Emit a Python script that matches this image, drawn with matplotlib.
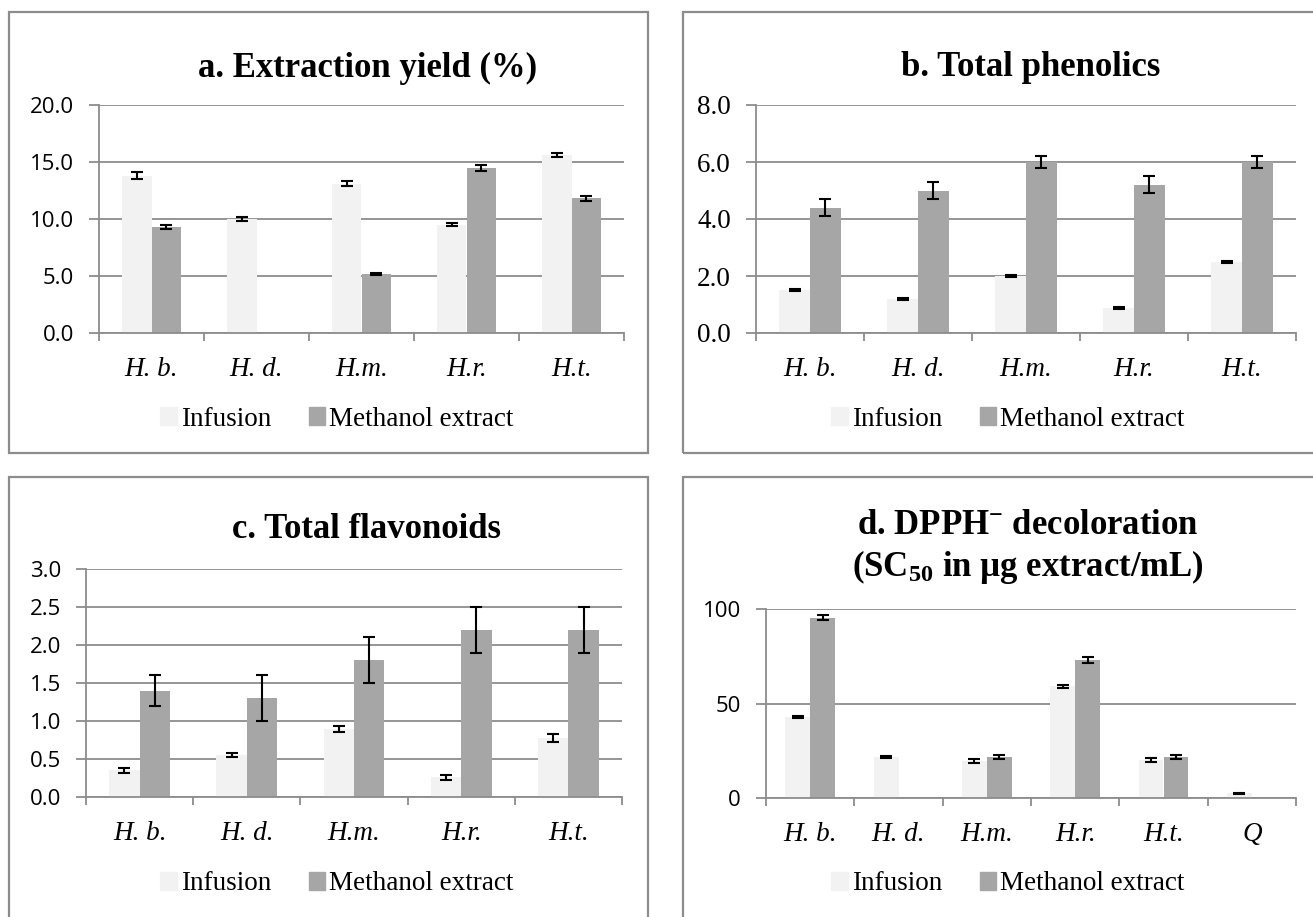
import numpy as np
import matplotlib
matplotlib.use("Agg")
import matplotlib.pyplot as plt
from matplotlib.patches import Rectangle, Patch

# ---- data ----
species = ["H. b.", "H. d.", "H.m.", "H.r.", "H.t."]
species_q = ["H. b.", "H. d.", "H.m.", "H.r.", "H.t.", "Q"]

yield_inf = [13.8, 10.0, 13.1, 9.5, 15.6]
yield_inf_err = [0.3, 0.2, 0.2, 0.15, 0.2]
yield_met = [9.3, 0.0, 5.2, 14.5, 11.8]
yield_met_err = [0.15, np.nan, 0.08, 0.25, 0.2]

phen_inf = [1.5, 1.2, 2.0, 0.87, 2.5]
phen_inf_err = [0.03, 0.03, 0.03, 0.03, 0.03]
phen_met = [4.4, 5.0, 6.0, 5.2, 6.0]
phen_met_err = [0.3, 0.3, 0.2, 0.3, 0.2]

flav_inf = [0.35, 0.55, 0.89, 0.26, 0.78]
flav_inf_err = [0.03, 0.03, 0.04, 0.03, 0.05]
flav_met = [1.4, 1.3, 1.8, 2.2, 2.2]
flav_met_err = [0.2, 0.3, 0.3, 0.3, 0.3]

dpph_inf = [43.0, 21.5, 19.5, 59.0, 20.0, 2.5]
dpph_inf_err = [0.5, 0.5, 1.0, 1.0, 1.0, 0.3]
dpph_met = [95.5, 0.0, 21.5, 73.0, 21.5, np.nan]
dpph_met_err = [1.5, np.nan, 1.0, 1.5, 1.0, np.nan]

INF_COLOR = "#F2F2F2"
MET_COLOR = "#A6A6A6"
GRID = "#8C8C8C"
SERIF = "Liberation Serif"
SANS = "Open Sans"

plt.rcParams["mathtext.fontset"] = "custom"
plt.rcParams["mathtext.rm"] = "Liberation Serif:bold"
plt.rcParams["mathtext.bf"] = "Liberation Serif:bold"
plt.rcParams["mathtext.it"] = "Liberation Serif:bold"
plt.rcParams["mathtext.default"] = "bf"

W, H = 1313, 917
fig = plt.figure(figsize=(W / 100, H / 100), dpi=100)
ytick_fonts = {}


def px_axes(left, right, top, bottom):
    return fig.add_axes([left / W, 1 - bottom / H, (right - left) / W, (bottom - top) / H])


def box(x0, x1, y0, y1):
    fig.add_artist(Rectangle((x0 / W, 1 - y1 / H), (x1 - x0) / W, (y1 - y0) / H,
                             transform=fig.transFigure, fill=False,
                             ec="#8C8C8C", lw=1.6))


def panel(ax, labels, inf, inf_err, met, met_err, ymax, ystep, fmt, tick_family, tick_size):
    n = len(labels)
    x = np.arange(n)
    w = 0.283
    ax.bar(x - w / 2, inf, w, color=INF_COLOR, zorder=2)
    ax.bar(x + w / 2, met, w, color=MET_COLOR, zorder=2)
    ekw = dict(fmt="none", ecolor="black", elinewidth=1.5, capsize=4.3, capthick=1.5, zorder=3)
    ax.errorbar(x - w / 2, inf, yerr=inf_err, **ekw)
    ax.errorbar(x + w / 2, met, yerr=met_err, **ekw)
    ax.set_xlim(-0.5, n - 0.5)
    ax.set_ylim(0, ymax)
    ticks = np.arange(0, ymax + ystep / 2, ystep)
    ax.set_yticks(ticks, [fmt.format(t) for t in ticks])
    ax.tick_params(axis="y", length=7, width=1.3, color=GRID, direction="out", pad=11,
                   labelsize=tick_size, labelfontfamily=tick_family)
    ax.set_xticks(x, labels)
    ax.set_xticks(np.arange(n + 1) - 0.5, minor=True)
    ax.tick_params(axis="x", which="major", length=0, pad=17)
    ax.tick_params(axis="x", which="minor", length=6, width=1.3, color=GRID, direction="out")
    ax.yaxis.grid(True, color=GRID, lw=1.3)
    ax.set_axisbelow(True)
    for s in ["top", "right"]:
        ax.spines[s].set_visible(False)
    for s in ["left", "bottom"]:
        ax.spines[s].set_color(GRID)
        ax.spines[s].set_linewidth(1.3)
    ytick_fonts[ax] = (tick_family, tick_size)


def legend(cx, cy):
    handles = [Patch(color=INF_COLOR, label="Infusion"),
               Patch(color=MET_COLOR, label="Methanol extract")]
    fig.legend(handles=handles, loc="center", bbox_to_anchor=(cx / W, 1 - cy / H),
               ncol=2, frameon=False, prop={"family": SERIF, "size": 19.5},
               handlelength=0.6, handleheight=0.6, handletextpad=0.15,
               columnspacing=1.4)


# panel boxes
box(9, 648, 12, 453)
box(683, 1340, 12, 453)
box(9, 648, 477, 940)
box(683, 1340, 477, 940)

# a. extraction yield
ax = px_axes(99, 624, 105, 333)
panel(ax, species, yield_inf, yield_inf_err, yield_met, yield_met_err, 20, 5, "{:.1f}", SANS, 16)
fig.text(368 / W, 1 - 68 / H, "a. Extraction yield (%)", family=SERIF, weight="bold",
         fontsize=25, ha="center", va="center")
legend(337, 419)

# b. total phenolics
ax = px_axes(756, 1296, 105, 333)
panel(ax, species, phen_inf, phen_inf_err, phen_met, phen_met_err, 8, 2, "{:.1f}", SERIF, 19.5)
fig.text(1031 / W, 1 - 67 / H, "b. Total phenolics", family=SERIF, weight="bold",
         fontsize=25, ha="center", va="center")
legend(1008, 419)

# c. total flavonoids
ax = px_axes(86, 622, 569, 797)
panel(ax, species, flav_inf, flav_inf_err, flav_met, flav_met_err, 3, 0.5, "{:.1f}", SANS, 16)
fig.text(367 / W, 1 - 530 / H, "c. Total flavonoids", family=SERIF, weight="bold",
         fontsize=25, ha="center", va="center")
legend(337, 884)

# d. DPPH decoloration
ax = px_axes(766, 1296, 609, 798)
panel(ax, species_q, dpph_inf, dpph_inf_err, dpph_met, dpph_met_err, 100, 50, "{:.0f}", SANS, 16)
fig.text(1028 / W, 1 - 525 / H, r"d. DPPH$^{-}$ decoloration", family=SERIF, weight="bold",
         fontsize=25, ha="center", va="center")
fig.text(1028 / W, 1 - 567 / H, r"(SC$_{50}$ in µg extract/mL)", family=SERIF, weight="bold",
         fontsize=25, ha="center", va="center")
legend(1008, 884)

# make sure the tick label fonts stick once all ticks exist
fig.canvas.draw()
for a, (fam, size) in ytick_fonts.items():
    for lbl in a.get_yticklabels():
        lbl.set_fontfamily(fam)
        lbl.set_fontsize(size)
    for lbl in a.get_xticklabels():
        lbl.set_fontfamily(SERIF)
        lbl.set_fontstyle("italic")
        lbl.set_fontsize(19.5)

fig.savefig("out.png", dpi=100, facecolor="white")
